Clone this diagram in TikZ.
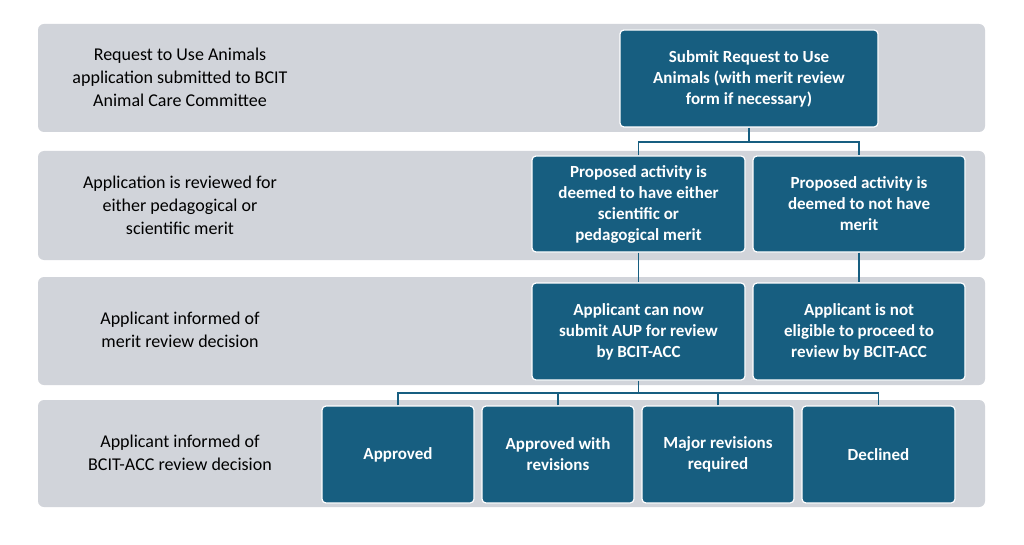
\documentclass[tikz,border=0pt]{standalone}
\usepackage{fontspec}
\setmainfont{Carlito}
\begin{document}
\begin{tikzpicture}[x=1pt,y=-1pt,
band/.style={fill=bandgray,draw=none,rounded corners=6pt},
box/.style={fill=teal1,draw=white,line width=1.2pt,rounded corners=4pt,text=white,font=\fontsize{17}{21}\selectfont\bfseries,align=center,inner sep=2pt},
lab/.style={font=\fontsize{18}{23}\selectfont,align=center,text=black},
con/.style={draw=teal1,line width=1.3pt}]
\definecolor{bandgray}{HTML}{D1D4DA}
\definecolor{teal1}{HTML}{175E80}
\useasboundingbox (0,0) rectangle (1024,545);
\fill[white] (0,0) rectangle (1024,545);
\path[band] (38,24) rectangle (985,132);
\path[band] (38,151) rectangle (985,260);
\path[band] (38,277) rectangle (985,385);
\path[band] (38,400) rectangle (985,507);
\node[lab] (l1) at (180,77) {Request to Use Animals\\application submitted to BCIT\\Animal Care Committee};
\node[lab] (l2) at (180,205) {Application is reviewed for\\either pedagogical or\\scientific merit};
\node[lab] (l3) at (180,330) {Applicant informed of\\merit review decision};
\node[lab] (l4) at (180,453) {Applicant informed of\\BCIT-ACC review decision};
\node[box,minimum width=258,minimum height=97] (top) at (749,78.5) {Submit Request to Use\\Animals (with merit review\\form if necessary)};
\node[box,minimum width=213,minimum height=96] (a) at (638.5,204) {Proposed activity is\\deemed to have either\\scientific or\\pedagogical merit};
\node[box,minimum width=212,minimum height=96] (b) at (859,204) {Proposed activity is\\deemed to not have\\merit};
\node[box,minimum width=213,minimum height=97] (c) at (638.5,331.5) {Applicant can now\\submit AUP for review\\by BCIT-ACC};
\node[box,minimum width=212,minimum height=97] (d) at (859,331.5) {Applicant is not\\eligible to proceed to\\review by BCIT-ACC};
\node[box,minimum width=152,minimum height=97] (e1) at (398,454.5) {Approved};
\node[box,minimum width=152,minimum height=97] (e2) at (558,454.5) {Approved with\\revisions};
\node[box,minimum width=152,minimum height=97] (e3) at (718,454.5) {Major revisions\\required};
\node[box,minimum width=153,minimum height=97] (e4) at (878.5,454.5) {Declined};
\coordinate (j1) at (749,142);
\coordinate (j2) at (638.5,393);
\draw[con] (top.south) -- (j1);
\draw[con] (a.north) |- (j1) -| (b.north);
\draw[con] (a) -- (c);
\draw[con] (b) -- (d);
\draw[con] (c.south) -- (j2);
\draw[con] (e1.north) |- (j2) -| (e4.north);
\draw[con] (e2.north) -- (e2.north|-j2);
\draw[con] (e3.north) -- (e3.north|-j2);
\end{tikzpicture}
\end{document}
